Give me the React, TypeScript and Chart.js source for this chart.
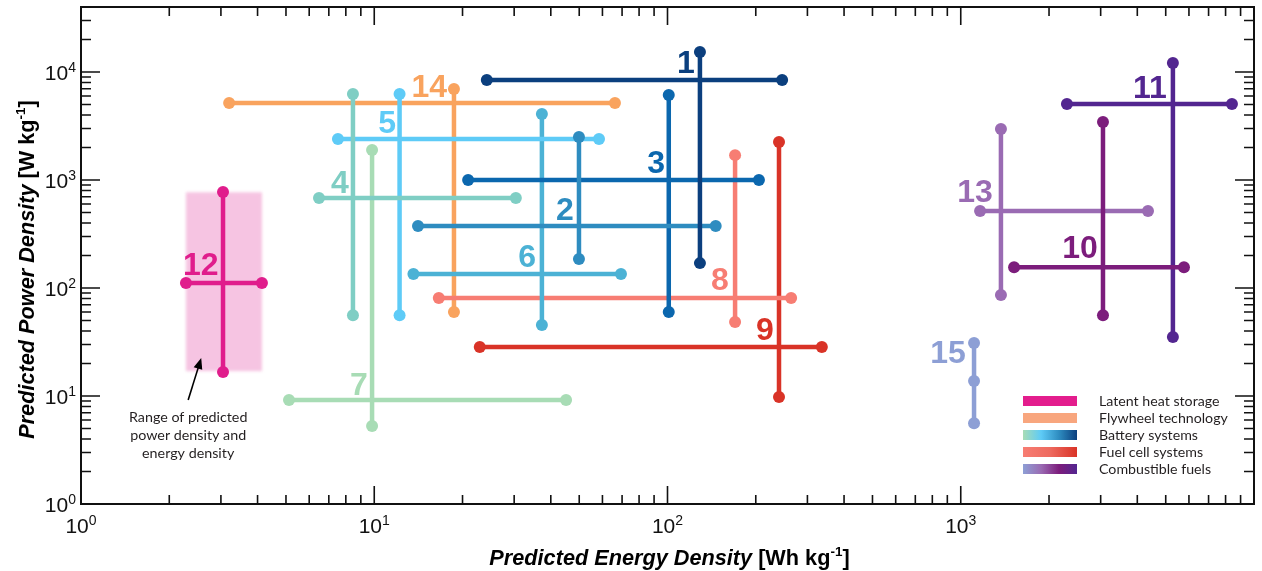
import React, { useEffect, useRef } from 'react';
import { Chart, registerables } from 'chart.js';

Chart.register(...registerables);

// ---------- data ----------
const itemLabels = ['1', '2', '3', '4', '5', '6', '7', '8', '9', '10', '11', '12', '13', '14', '15'];
const itemColors = [
  '#0b3f7e', '#2e8cc0', '#0b67ae', '#7fcec4', '#5ecbf7', '#4cb2d5', '#a8dcb5', '#f77d73',
  '#d93327', '#7c1d7c', '#532690', '#e01d8c', '#9a6bb3', '#f9a35e', '#8d9fd5',
];
// horizontal bar: energy density range at one power density
const hEnergyLow = [24.2, 14.1, 20.9, 6.48, 7.52, 13.6, 5.12, 16.6, 22.9, 1520, 2302, 2.28, 1164, 3.2, null];
const hEnergyHigh = [246, 146, 205, 30.4, 58.4, 69.4, 45.1, 264, 336, 5770, 8410, 4.14, 4350, 66.2, null];
const hPower = [8430, 375, 1000, 681, 2400, 135, 9.18, 80.8, 28.4, 156, 5055, 111, 516, 5160, null];
// vertical bar: power density range at one energy density
const vEnergy = [129, 49.9, 101, 8.46, 12.2, 37.3, 9.83, 170, 240, 3055, 5290, 3.05, 1371, 18.7, 1110];
const vPowerLow = [170, 186, 60, 56, 56, 45.5, 5.28, 48.4, 9.79, 56, 35.2, 16.7, 86, 60, 5.6];
const vPowerMid = [null, null, null, null, null, null, null, null, null, null, null, null, null, null, 13.8];
const vPowerHigh = [15300, 2500, 6120, 6260, 6260, 4080, 1896, 1700, 2250, 3440, 12100, 774, 2970, 6960, 31];
// where each number label sits (energy, power)
const labelEnergy = [115.6, 44.7, 91.4, 7.64, 11.06, 33.2, 8.87, 151, 215, 2552, 4418, 2.56, 1119, 15.4, 905];
const labelPower = [9790, 426, 1161, 758, 2724, 156, 10.2, 95.8, 33, 190, 5745, 132, 626, 5870, 20.2];

// shaded range for item 12
const rangeEnergy = [2.28, 4.14];
const rangePower = [17, 770];

// axis
const xMin = 1;
const xMax = 10000;
const yMin = 1;
const yMax = 40000;
const xTickExponents = [0, 1, 2, 3];
const yTickExponents = [0, 1, 2, 3, 4];

// legend
const legendNames = ['Latent heat storage', 'Flywheel technology', 'Battery systems', 'Fuel cell systems', 'Combustible fuels'];
const legendStops = [
  ['#e31d8d', '#e31d8d'],
  ['#f8a67e', '#f8a67e'],
  ['#a8dcb5', '#5ecbf7', '#2e8cc0', '#0b3f7e'],
  ['#f77d73', '#ee6a5f', '#d93327'],
  ['#8d9fd5', '#9a6bb3', '#7c1d7c', '#532690'],
];

// annotation
const noteLines = ['Range of predicted', 'power density and', 'energy density'];
const noteAt = [2.32, 5.74];
const arrowFrom = [2.32, 9.18];
const arrowTo = [2.57, 22.5];

const SANS = '"Liberation Sans", Arial, sans-serif';
const NOTE_FONT = 'Lato, "Open Sans", sans-serif';

function drawPow(ctx: CanvasRenderingContext2D, x: number, baseline: number, exp: number, align: 'center' | 'right') {
  ctx.save();
  ctx.fillStyle = '#111';
  ctx.textAlign = 'left';
  ctx.textBaseline = 'alphabetic';
  ctx.font = `21px ${SANS}`;
  const w1 = ctx.measureText('10').width;
  ctx.font = `14px ${SANS}`;
  const w2 = ctx.measureText(String(exp)).width;
  const total = w1 + w2;
  const start = align === 'center' ? x - total / 2 : x - total;
  ctx.font = `21px ${SANS}`;
  ctx.fillText('10', start, baseline);
  ctx.font = `14px ${SANS}`;
  ctx.fillText(String(exp), start + w1, baseline - 8);
  ctx.restore();
}

function drawTitle(ctx: CanvasRenderingContext2D, main: string, unit: string) {
  // draws centered at (0,0) baseline
  const fMain = `italic bold 21.7px ${SANS}`;
  const fUnit = `bold 21.7px ${SANS}`;
  const fSup = `bold 13.5px ${SANS}`;
  ctx.font = fMain;
  const w1 = ctx.measureText(main + ' ').width;
  ctx.font = fUnit;
  const w2 = ctx.measureText('[' + unit + ' kg').width;
  ctx.font = fSup;
  const w3 = ctx.measureText('-1').width;
  ctx.font = fUnit;
  const w4 = ctx.measureText(']').width;
  const total = w1 + w2 + w3 + w4;
  let x = -total / 2;
  ctx.fillStyle = '#000';
  ctx.textAlign = 'left';
  ctx.textBaseline = 'alphabetic';
  ctx.font = fMain;
  ctx.fillText(main + ' ', x, 0);
  x += w1;
  ctx.font = fUnit;
  ctx.fillText('[' + unit + ' kg', x, 0);
  x += w2;
  ctx.font = fSup;
  ctx.fillText('-1', x, -9);
  x += w3;
  ctx.font = fUnit;
  ctx.fillText(']', x, 0);
}

const decorPlugin = {
  id: 'decor',
  beforeDatasetsDraw(chart: any) {
    const { ctx, scales } = chart;
    const xs = scales.x;
    const ys = scales.y;
    const x0 = xs.getPixelForValue(rangeEnergy[0]);
    const x1 = xs.getPixelForValue(rangeEnergy[1]);
    const y0 = ys.getPixelForValue(rangePower[1]);
    const y1 = ys.getPixelForValue(rangePower[0]);
    ctx.save();
    ctx.filter = 'blur(1.5px)';
    ctx.fillStyle = '#f6c4e2';
    ctx.fillRect(x0, y0, x1 - x0, y1 - y0);
    ctx.restore();
  },
  afterDatasetsDraw(chart: any) {
    const { ctx, scales } = chart;
    const xs = scales.x;
    const ys = scales.y;
    ctx.save();
    ctx.font = `bold 32px ${SANS}`;
    ctx.textAlign = 'center';
    ctx.textBaseline = 'alphabetic';
    itemLabels.forEach((lab, i) => {
      ctx.fillStyle = itemColors[i];
      ctx.fillText(lab, xs.getPixelForValue(labelEnergy[i]), ys.getPixelForValue(labelPower[i]));
    });
    ctx.restore();
  },
  afterDraw(chart: any) {
    const { ctx, scales, chartArea } = chart;
    const xs = scales.x;
    const ys = scales.y;
    const { left, right, top, bottom } = chartArea;
    ctx.save();
    // frame
    ctx.strokeStyle = '#111';
    ctx.lineWidth = 2;
    ctx.strokeRect(left, top, right - left, bottom - top);
    // ticks
    ctx.lineWidth = 1.6;
    ctx.beginPath();
    for (let e = 0; e <= 4; e++) {
      for (let m = 1; m <= 9; m++) {
        const v = m * Math.pow(10, e);
        if (v < xMin || v > xMax) continue;
        const px = xs.getPixelForValue(v);
        const len = m === 1 ? 18 : 9;
        ctx.moveTo(px, bottom);
        ctx.lineTo(px, bottom - len);
        ctx.moveTo(px, top);
        ctx.lineTo(px, top + len);
      }
    }
    for (let e = 0; e <= 4; e++) {
      for (let m = 1; m <= 9; m++) {
        const v = m * Math.pow(10, e);
        if (v < yMin || v > yMax) continue;
        const py = ys.getPixelForValue(v);
        const len = m === 1 ? 19 : 10;
        ctx.moveTo(left, py);
        ctx.lineTo(left + len, py);
        ctx.moveTo(right, py);
        ctx.lineTo(right - len, py);
      }
    }
    ctx.stroke();
    // tick labels
    xTickExponents.forEach((e) => {
      drawPow(ctx, xs.getPixelForValue(Math.pow(10, e)), bottom + 29, e, 'center');
    });
    yTickExponents.forEach((e) => {
      drawPow(ctx, left - 5, ys.getPixelForValue(Math.pow(10, e)) + 8, e, 'right');
    });
    // axis titles
    ctx.save();
    ctx.translate((left + right) / 2 + 2, bottom + 61);
    drawTitle(ctx, 'Predicted Energy Density', 'Wh');
    ctx.restore();
    ctx.save();
    ctx.translate(34, (top + bottom) / 2 + 14);
    ctx.rotate(-Math.PI / 2);
    drawTitle(ctx, 'Predicted Power Density', 'W');
    ctx.restore();

    // legend
    const lx = right - 231;
    const ly = bottom - 103;
    legendNames.forEach((name, i) => {
      const cy = ly + i * 17;
      const g = ctx.createLinearGradient(lx, 0, lx + 54, 0);
      const stops = legendStops[i];
      stops.forEach((c, k) => g.addColorStop(k / (stops.length - 1), c));
      ctx.fillStyle = g;
      ctx.fillRect(lx, cy - 5, 54, 10);
      ctx.fillStyle = '#231f20';
      ctx.font = `14.2px ${NOTE_FONT}`;
      ctx.textAlign = 'left';
      ctx.textBaseline = 'middle';
      ctx.fillText(name, lx + 76, cy);
    });

    // annotation
    const nx = xs.getPixelForValue(noteAt[0]);
    const ny = ys.getPixelForValue(noteAt[1]);
    ctx.fillStyle = '#231f20';
    ctx.font = `14.3px ${NOTE_FONT}`;
    ctx.textAlign = 'center';
    ctx.textBaseline = 'alphabetic';
    noteLines.forEach((t, i) => ctx.fillText(t, nx, ny + i * 18));
    const ax0 = xs.getPixelForValue(arrowFrom[0]);
    const ay0 = ys.getPixelForValue(arrowFrom[1]);
    const ax1 = xs.getPixelForValue(arrowTo[0]);
    const ay1 = ys.getPixelForValue(arrowTo[1]);
    const ang = Math.atan2(ay1 - ay0, ax1 - ax0);
    ctx.strokeStyle = '#000';
    ctx.lineWidth = 1.6;
    ctx.beginPath();
    ctx.moveTo(ax0, ay0);
    ctx.lineTo(ax1 - 8 * Math.cos(ang), ay1 - 8 * Math.sin(ang));
    ctx.stroke();
    ctx.fillStyle = '#000';
    ctx.beginPath();
    ctx.moveTo(ax1, ay1);
    ctx.lineTo(ax1 - 11 * Math.cos(ang) + 4.5 * Math.sin(ang), ay1 - 11 * Math.sin(ang) - 4.5 * Math.cos(ang));
    ctx.lineTo(ax1 - 11 * Math.cos(ang) - 4.5 * Math.sin(ang), ay1 - 11 * Math.sin(ang) + 4.5 * Math.cos(ang));
    ctx.closePath();
    ctx.fill();
    ctx.restore();
  },
};

function buildDatasets() {
  const ds: any[] = [];
  itemLabels.forEach((lab, i) => {
    const c = itemColors[i];
    const common = {
      showLine: true,
      borderColor: c,
      backgroundColor: c,
      pointBackgroundColor: c,
      pointBorderWidth: 0,
      pointRadius: 6,
      pointHoverRadius: 6,
      borderWidth: 4.5,
      tension: 0,
      clip: false,
    };
    if (hPower[i] !== null) {
      ds.push({
        ...common,
        label: lab + ' energy',
        data: [
          { x: hEnergyLow[i], y: hPower[i] },
          { x: hEnergyHigh[i], y: hPower[i] },
        ],
      });
    }
    const vdata: any[] = [{ x: vEnergy[i], y: vPowerLow[i] }];
    if (vPowerMid[i] !== null) vdata.push({ x: vEnergy[i], y: vPowerMid[i] });
    vdata.push({ x: vEnergy[i], y: vPowerHigh[i] });
    ds.push({ ...common, label: lab + ' power', data: vdata });
  });
  return ds;
}

export default function App() {
  const ref = useRef<HTMLCanvasElement | null>(null);
  useEffect(() => {
    if (!ref.current) return;
    const chart = new Chart(ref.current, {
      type: 'scatter',
      data: { datasets: buildDatasets() },
      options: {
        animation: false,
        responsive: false,
        maintainAspectRatio: false,
        layout: { padding: { top: 7, right: 8, left: 0, bottom: 0 } },
        plugins: { legend: { display: false }, tooltip: { enabled: false } },
        events: [],
        scales: {
          x: {
            type: 'logarithmic',
            min: xMin,
            max: xMax,
            grid: { display: false },
            border: { display: false },
            ticks: { display: false },
            afterFit: (s: any) => {
              s.height = 67;
            },
          },
          y: {
            type: 'logarithmic',
            min: yMin,
            max: yMax,
            grid: { display: false },
            border: { display: false },
            ticks: { display: false },
            afterFit: (s: any) => {
              s.width = 81;
            },
          },
        },
      } as any,
      plugins: [decorPlugin],
    });
    return () => chart.destroy();
  }, []);
  return (
    <div style={{ position: 'fixed', left: 0, top: 0, width: 1262, height: 571, background: '#fff' }}>
      <canvas ref={ref} width={1262} height={571} style={{ width: 1262, height: 571, display: 'block' }} />
    </div>
  );
}
